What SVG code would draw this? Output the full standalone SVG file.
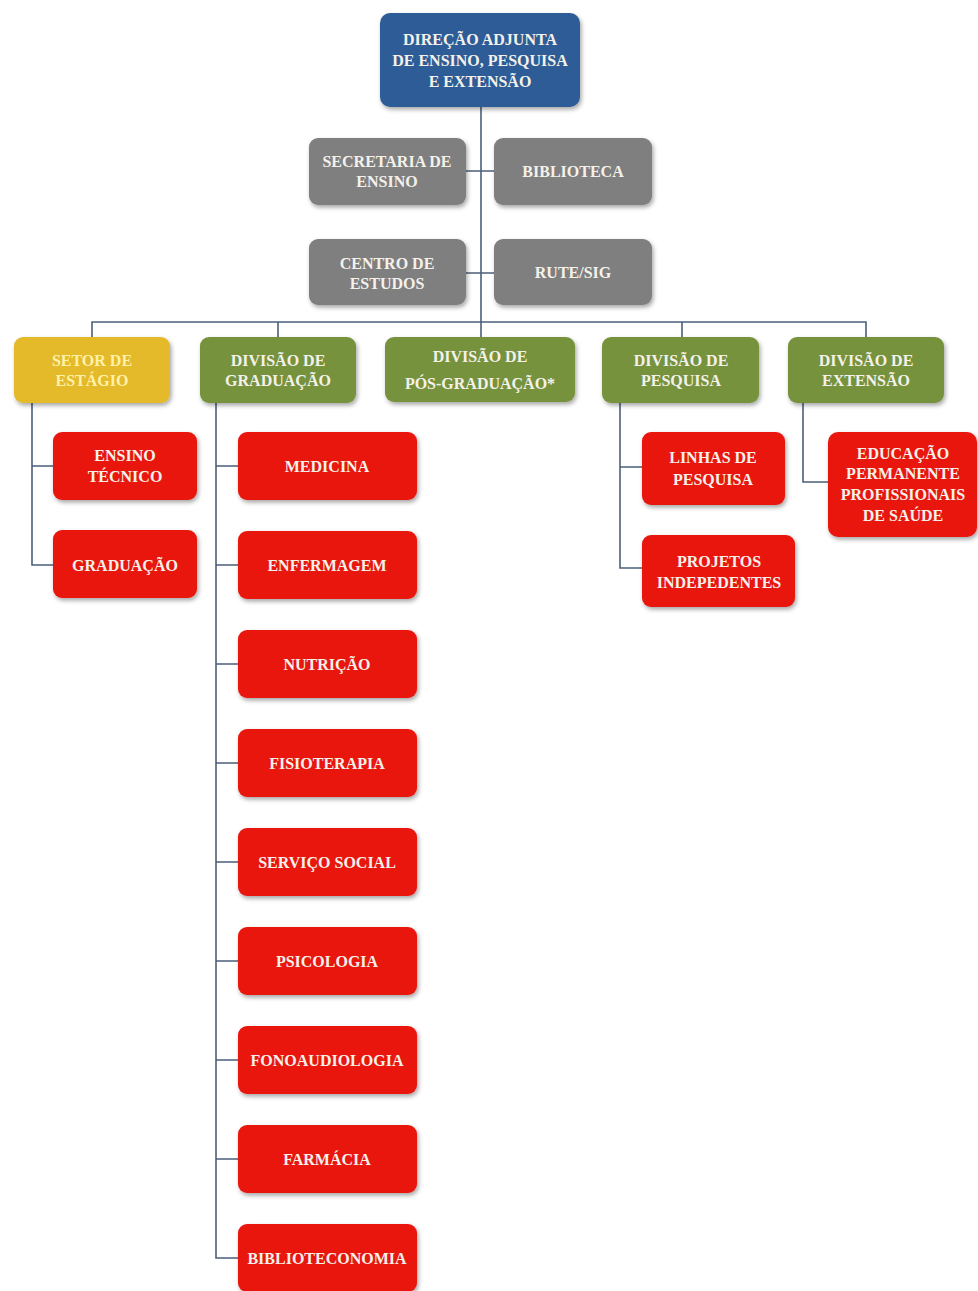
<svg xmlns="http://www.w3.org/2000/svg" width="978" height="1291" viewBox="0 0 978 1291">
<defs>
<filter id="sh" x="-10%" y="-10%" width="125%" height="130%">
<feDropShadow dx="1.5" dy="2.5" stdDeviation="2" flood-color="#000" flood-opacity="0.35"/>
</filter>
<style>
rect{filter:url(#sh)}
.blue{fill:#2e5c96}
.gray{fill:#7f7f7f}
.yellow{fill:#e4b92a}
.green{fill:#76923c}
.red{fill:#e8160c}
text{font-family:"Liberation Serif","DejaVu Serif",serif;font-weight:bold;font-size:16px;fill:#f4f1ea;text-anchor:middle}
.yt{fill:#fff2a8}
.c{fill:none;stroke:#4b5f7a;stroke-width:1.6}
</style>
</defs>
<rect width="978" height="1291" fill="#ffffff" style="filter:none"/>
<g id="connectors">
<path class="c" d="M481 107V322"/>
<path class="c" d="M466 171H495M466 273H495"/>
<path class="c" d="M92 337V322H866V337M278 322V337M481 322V337M682 322V337"/>
<path class="c" d="M32 403V565H53M32 466H53"/>
<path class="c" d="M216 403V1258H238M216 466H238M216 565H238M216 664H238M216 763H238M216 862H238M216 961H238M216 1060H238M216 1159H238"/>
<path class="c" d="M620 403V568H642M620 467H642"/>
<path class="c" d="M803 403V482H828"/>
</g>
<g id="direcao"><rect class="blue" x="380" y="13" width="200" height="94" rx="10"/>
<text x="480" y="45">DIREÇÃO ADJUNTA</text><text x="480" y="66">DE ENSINO, PESQUISA</text><text x="480" y="87">E EXTENSÃO</text></g>
<g id="secretaria"><rect class="gray" x="309" y="138" width="157" height="67" rx="9"/>
<text x="387" y="167">SECRETARIA DE</text><text x="387" y="187">ENSINO</text></g>
<g id="biblioteca"><rect class="gray" x="494" y="138" width="158" height="67" rx="9"/>
<text x="573" y="177">BIBLIOTECA</text></g>
<g id="centro"><rect class="gray" x="309" y="239" width="157" height="66" rx="9"/>
<text x="387" y="269">CENTRO DE</text><text x="387" y="289">ESTUDOS</text></g>
<g id="rute"><rect class="gray" x="494" y="239" width="158" height="66" rx="9"/>
<text x="573" y="278">RUTE/SIG</text></g>
<g id="setor"><rect class="yellow" x="14" y="337" width="156" height="66" rx="9"/>
<text class="yt" x="92" y="366">SETOR DE</text><text class="yt" x="92" y="386">ESTÁGIO</text></g>
<g id="div-graduacao"><rect class="green" x="200" y="337" width="156" height="66" rx="9"/>
<text x="278" y="366">DIVISÃO DE</text><text x="278" y="386">GRADUAÇÃO</text></g>
<g id="div-pos"><rect class="green" x="385" y="337" width="190" height="65" rx="9"/>
<text x="480" y="362">DIVISÃO DE</text><text x="480" y="389">PÓS-GRADUAÇÃO*</text></g>
<g id="div-pesquisa"><rect class="green" x="602" y="337" width="157" height="66" rx="9"/>
<text x="681" y="366">DIVISÃO DE</text><text x="681" y="386">PESQUISA</text></g>
<g id="div-extensao"><rect class="green" x="788" y="337" width="156" height="66" rx="9"/>
<text x="866" y="366">DIVISÃO DE</text><text x="866" y="386">EXTENSÃO</text></g>
<g id="ensino-tecnico"><rect class="red" x="53" y="432" width="144" height="68" rx="9"/>
<text x="125" y="461">ENSINO</text><text x="125" y="482">TÉCNICO</text></g>
<g id="graduacao"><rect class="red" x="53" y="530" width="144" height="68" rx="9"/>
<text x="125" y="571">GRADUAÇÃO</text></g>
<g id="medicina"><rect class="red" x="238" y="432" width="179" height="68" rx="9"/><text x="327" y="472">MEDICINA</text></g>
<g id="enfermagem"><rect class="red" x="238" y="531" width="179" height="68" rx="9"/><text x="327" y="571">ENFERMAGEM</text></g>
<g id="nutricao"><rect class="red" x="238" y="630" width="179" height="68" rx="9"/><text x="327" y="670">NUTRIÇÃO</text></g>
<g id="fisioterapia"><rect class="red" x="238" y="729" width="179" height="68" rx="9"/><text x="327" y="769">FISIOTERAPIA</text></g>
<g id="servico-social"><rect class="red" x="238" y="828" width="179" height="68" rx="9"/><text x="327" y="868">SERVIÇO SOCIAL</text></g>
<g id="psicologia"><rect class="red" x="238" y="927" width="179" height="68" rx="9"/><text x="327" y="967">PSICOLOGIA</text></g>
<g id="fonoaudiologia"><rect class="red" x="238" y="1026" width="179" height="68" rx="9"/><text x="327" y="1066">FONOAUDIOLOGIA</text></g>
<g id="farmacia"><rect class="red" x="238" y="1125" width="179" height="68" rx="9"/><text x="327" y="1165">FARMÁCIA</text></g>
<g id="biblioteconomia"><rect class="red" x="238" y="1224" width="179" height="68" rx="9"/><text x="327" y="1264">BIBLIOTECONOMIA</text></g>
<g id="linhas"><rect class="red" x="642" y="432" width="143" height="73" rx="9"/>
<text x="713" y="463">LINHAS DE</text><text x="713" y="485">PESQUISA</text></g>
<g id="projetos"><rect class="red" x="642" y="535" width="153" height="72" rx="9"/>
<text x="719" y="567">PROJETOS</text><text x="719" y="588">INDEPEDENTES</text></g>
<g id="educacao"><rect class="red" x="828" y="432" width="149" height="105" rx="10"/>
<text x="903" y="459">EDUCAÇÃO</text><text x="903" y="479">PERMANENTE</text><text x="903" y="500">PROFISSIONAIS</text><text x="903" y="521">DE SAÚDE</text></g>
</svg>
